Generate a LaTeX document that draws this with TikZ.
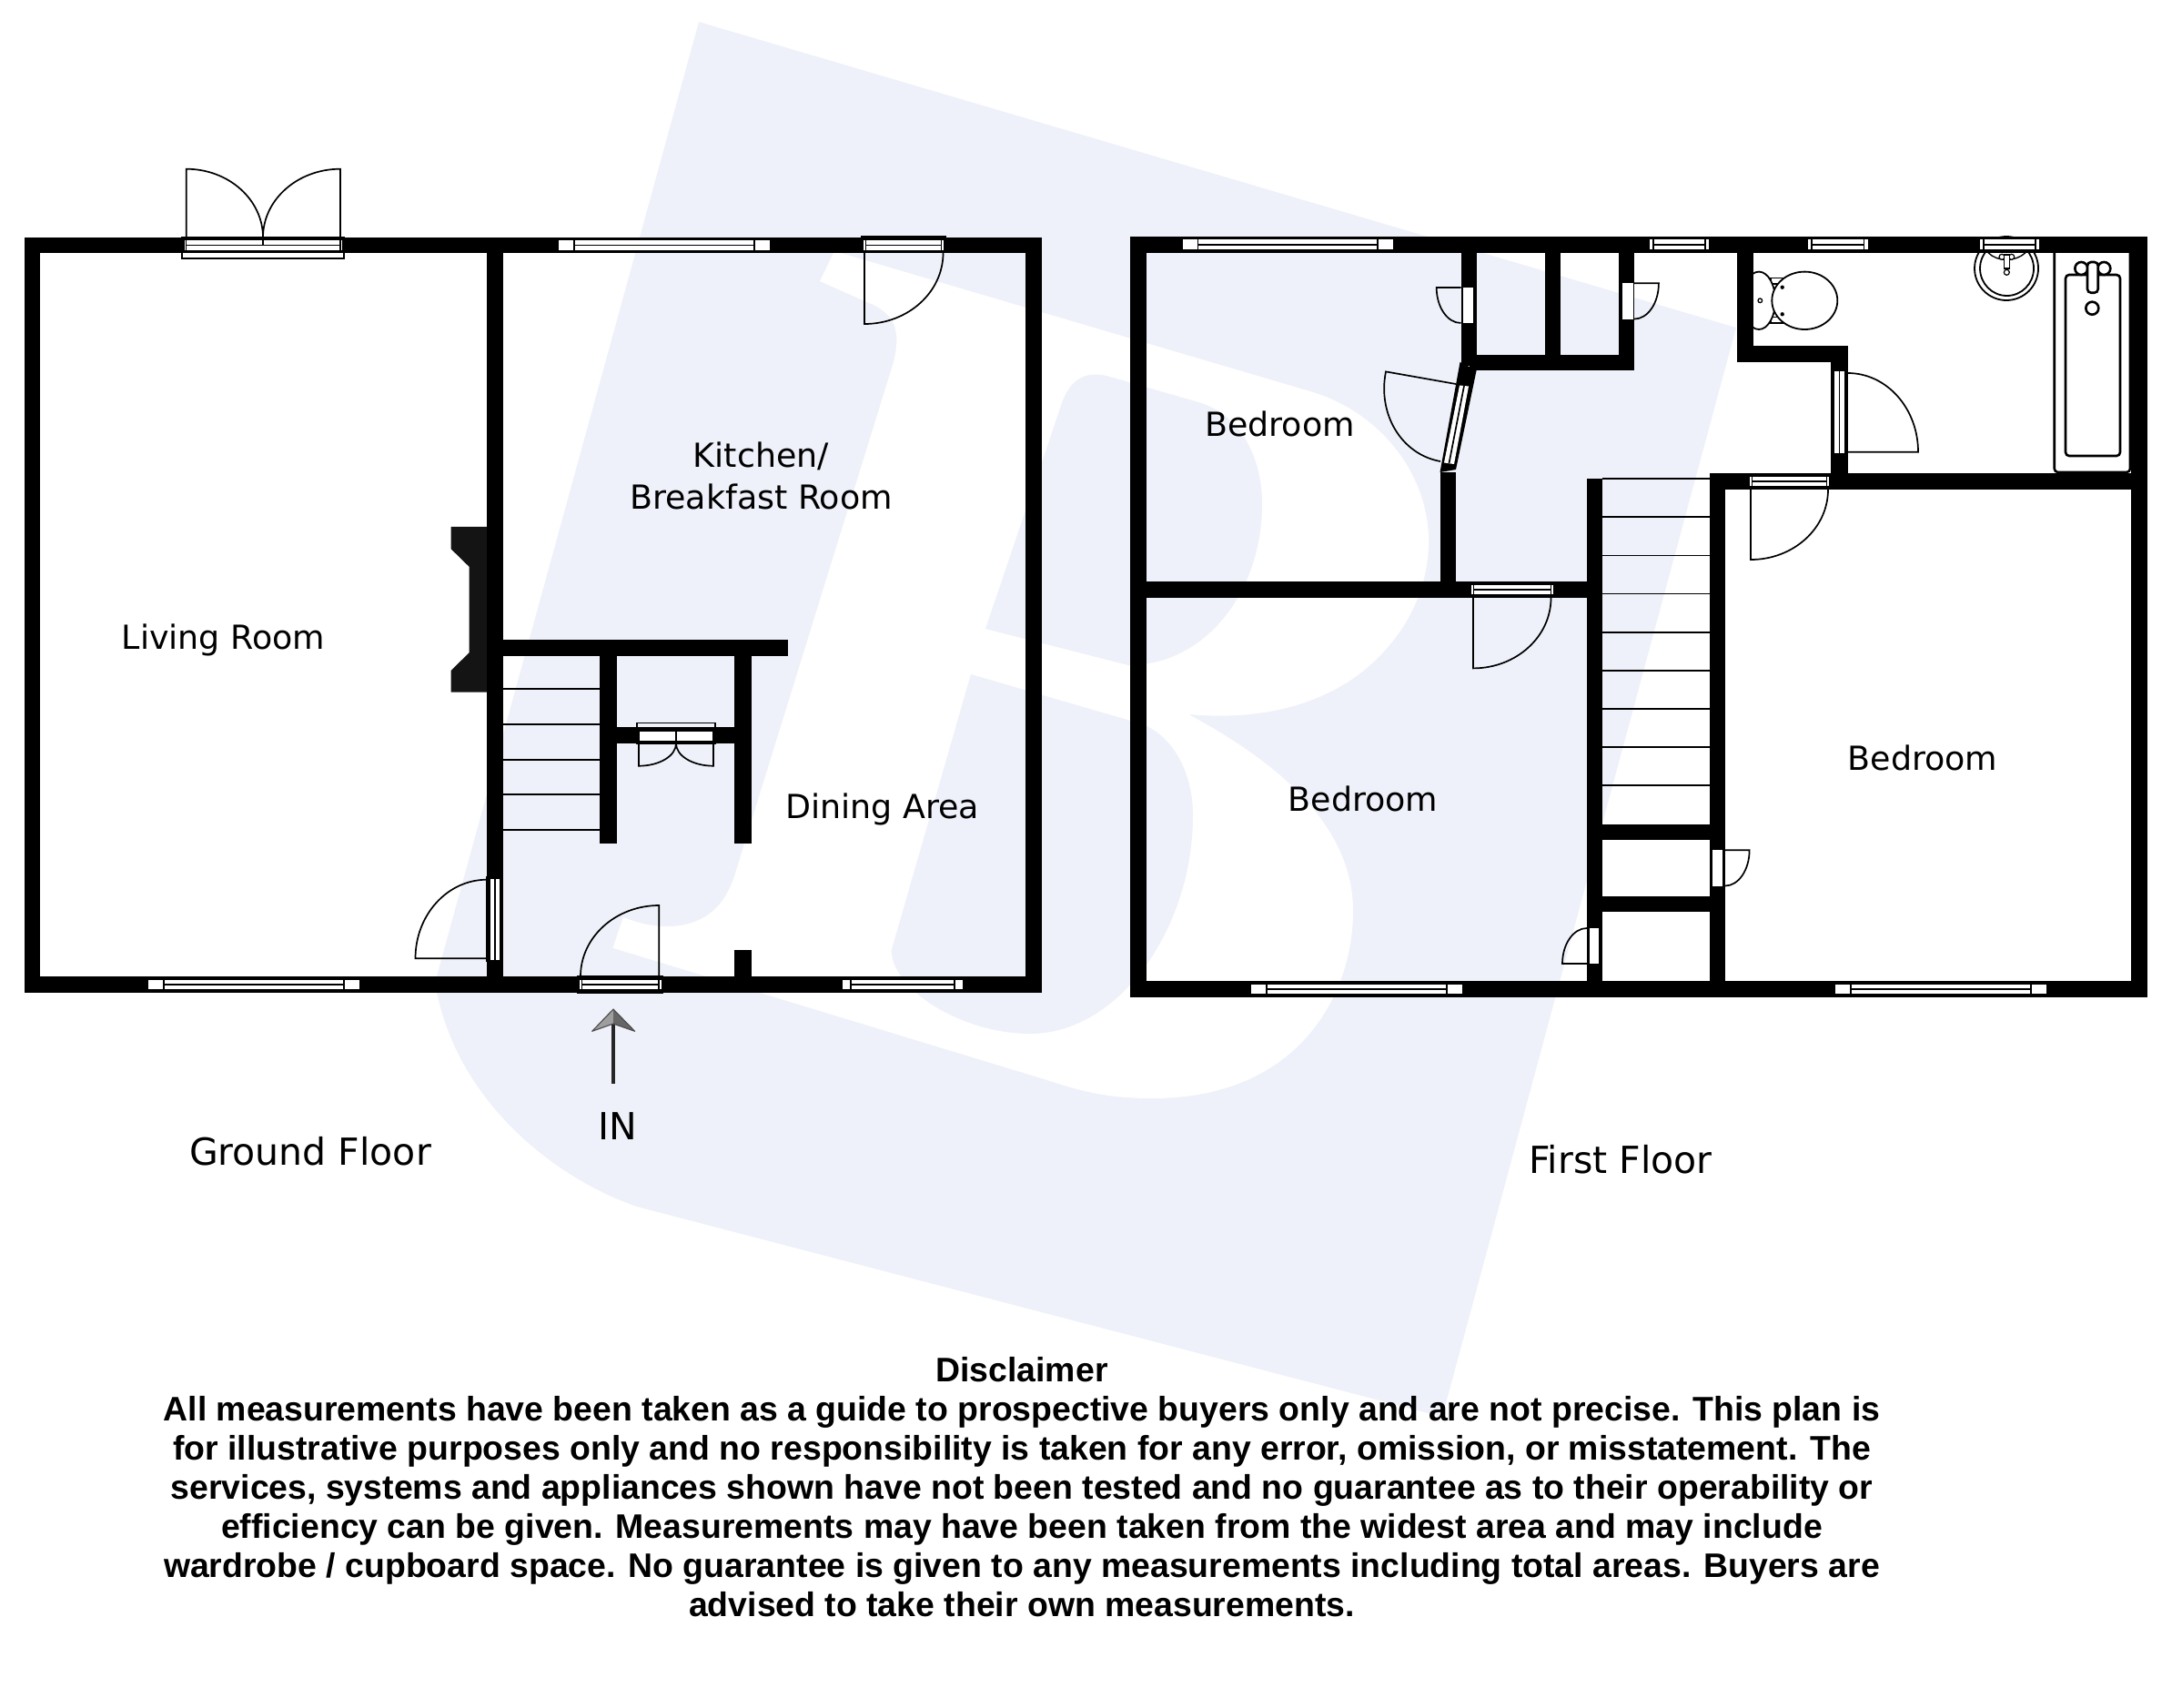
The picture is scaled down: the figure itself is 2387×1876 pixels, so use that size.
\documentclass[tikz,border=0pt]{standalone}
\usepackage{fontspec}
\setmainfont{DejaVu Sans}
\newfontfamily\notefont{Liberation Sans}
\definecolor{wmblue}{HTML}{EEF1F9}
\tikzset{
    wall/.style={fill=black},
    pane/.style={fill=white},
    doorline/.style={draw=black, line width=1.7pt},
    tread/.style={draw=black, line width=1.8pt},
    fixture/.style={draw=black, line width=1.8pt, fill=white},
    roomlabel/.style={inner sep=0pt, align=center, font=\fontsize{36.4}{46}\selectfont},
    floorlabel/.style={inner sep=0pt, font=\fontsize{41}{50}\selectfont},
    notelabel/.style={inner sep=0pt, align=center, font=\notefont\bfseries\fontsize{37.4}{43}\selectfont},
}
\begin{document}
\begin{tikzpicture}[x=1pt, y=-1pt]
    \useasboundingbox (0,0) rectangle (2387,1876);

    % watermark
    \fill[wmblue] (768,24) -- (1908,360) -- (1585,1557) -- (700,1326)
        .. controls (610,1295) and (500,1210) .. (478,1080) -- cycle;
    \fill[white] (917,276) -- (1443,431)
        .. controls (1520,455) and (1572,525) .. (1570,599)
        .. controls (1568,665) and (1530,715) .. (1488,745)
        .. controls (1430,785) and (1360,790) .. (1306,785)
        .. controls (1390,830) and (1487,900) .. (1487,1001)
        .. controls (1487,1090) and (1430,1207) .. (1266,1207)
        .. controls (1220,1207) and (1190,1200) .. (1151,1187)
        -- (673.4,1041.7) -- (685,1008)
        .. controls (705,1016) and (720,1018) .. (733,1018)
        .. controls (770,1018) and (795,1000) .. (807,963)
        -- (982,398) .. controls (990,365) and (985,345) .. (955,333)
        -- (901,309) -- cycle;
    \fill[wmblue] (1083,691) -- (1168,440) .. controls (1178,415) and (1195,407) .. (1220,414)
        -- (1317,442) .. controls (1365,456) and (1387,505) .. (1387,554)
        .. controls (1387,650) and (1325,731) .. (1240,731) -- cycle;
    \fill[wmblue] (1067,741) -- (1256,796) .. controls (1290,810) and (1311,850) .. (1311,896)
        .. controls (1311,1020) and (1230,1136) .. (1132,1136)
        .. controls (1060,1136) and (982,1090) .. (979.5,1045) -- cycle;

    % bathroom fittings
    \draw[fixture] (2205,295) circle (35);
    \draw[fixture] (2205.5,295) ellipse (29.5 and 30);
    \draw[fixture, line width=1.4pt] (2185,277.7) .. controls (2195,288) and (2215,288) .. (2226,277.7);
    \draw[fixture, line width=1.2pt] (2200,282.3) circle (3) (2210.7,282.3) circle (3);
    \draw[fixture, line width=1.2pt] (2202.7,280) rectangle (2208.3,295);
    \draw[fixture, line width=1.2pt] (2205.3,299.3) circle (3);
    \draw[fixture, line width=2.6pt, fill=none, rounded corners=4pt] (2257.7,277.6) -- (2257.7,519) -- (2341,519) -- (2341,277.6);
    \draw[fixture, line width=2.6pt, rounded corners=4pt] (2270,302) rectangle (2330,501);
    \draw[fixture, line width=2.6pt] (2287.3,295) circle (7) (2312.3,295) circle (7);
    \draw[fixture, line width=2.6pt, rounded corners=4pt] (2294,288) rectangle (2305.7,321.7);
    \draw[fixture, line width=2.6pt] (2299.3,338.7) circle (7);
    \draw[fixture, line width=1.4pt] (1946,305.5) rectangle (1962,312) (1946,348.5) rectangle (1962,355);
    \draw[fixture] (1933,330.3) ellipse (18 and 31.7);
    \draw[fixture] (1983.3,330.3) ellipse (36 and 31.7);
    \fill (1958.7,315.7) circle (2.2) (1958.7,345.3) circle (2.2);
    \draw[line width=1.3pt] (1934.3,330.3) circle (2.3);

    % treads
    \foreach \y in {757.3,796.3,835.3,873.3,912}
        \draw[tread] (553,\y) -- (659,\y);
    \foreach \y in {526.2,568.3,610.4,652.5,694.6,736.7,778.8,820.9,863}
        \draw[tread] (1761,\y) -- (1878.7,\y);

    % walls, ground floor then first floor
    \foreach \xa/\ya/\xb/\yb in {26.6/261/1145/278, 26.6/1073/1145/1090.7, 26.6/261/44.4/1090.7,
        1127/261/1145/1090.7, 535/261/553/1090.7, 553/702.5/866/720.5, 659/720/677.5/927,
        807/720/825.7/927, 677/799/807/817, 807/1044/825.7/1073,
        1242.3/259.6/2360/277.6, 1242.3/1078/2360/1096, 1242.3/259.6/1260/1096, 2342/259.6/2360/1096,
        1260/639/1747/657, 1744/526/1761/1096, 1878.7/520.6/1895.8/1096, 1878.7/520/2360/537.7,
        2012/380/2030.7/520, 1909/380/2030.7/397.7, 1909/260/1927.3/397.7, 1605.5/260/1622.6/402,
        1697.8/260/1715/406.7, 1779/260/1796/406.7, 1615/390/1796/406.7, 1582.5/519/1599.6/639,
        1761/906/1879/923, 1761/985.3/1879/1002}
        \fill[wall] (\xa,\ya) rectangle (\xb,\yb);
    \fill[wall] (1604.5,398) -- (1622.6,407) -- (1600,516) -- (1582.5,519) -- cycle;
    % chimney breast
    \fill[black!92] (535,578.8) -- (495.7,578.8) -- (495.7,603.3) -- (515.7,622.9) -- (515.7,717.2)
        -- (495.7,736.8) -- (495.7,760.6) -- (535,760.6) -- cycle;

    % windows and door thresholds along the horizontal walls
    \foreach \xa/\xb/\ym/\capw in {614/846/269.5/17, 162.8/395/1082/17, 926/1058/1082/9,
        1299.6/1531/268.7/17, 1813/1878/268.7/4, 1987/2052.7/268.7/4, 2176/2241/268.7/4,
        1374.8/1607/1087/17, 2017/2249/1087/17,
        202.7/376/269.5/2, 949/1037/269.5/2.5, 637/726.5/1082/2.5,
        1617/1707/648/2.5, 1923/2010/529/2.5} {
        \fill[pane] (\xa,\ym-5.3) rectangle (\xb,\ym+5.3);
        \draw[tread, line width=1.7pt] (\xa+\capw,\ym) -- (\xb-\capw,\ym);
        \draw[tread, line width=1.5pt] (\xa+\capw,\ym-5.3) -- (\xa+\capw,\ym+5.3)
            (\xb-\capw,\ym-5.3) -- (\xb-\capw,\ym+5.3);
    }
    % door thresholds along the vertical walls
    \foreach \xm/\ya/\yb in {543.7/966/1056, 2021.5/408/498} {
        \fill[pane] (\xm-5.2,\ya) rectangle (\xm+5.2,\yb);
        \draw[tread, line width=1.7pt] (\xm,\ya) -- (\xm,\yb);
    }
    \fill[pane] (1604,423.5) -- (1614,424.5) -- (1598,510) -- (1587,508.5) -- cycle;
    \draw[tread, line width=1.7pt] (1609,424) -- (1592.5,509);
    % cupboard thresholds
    \foreach \xa/\ya/\xb/\yb in {702.7/804/783.3/814, 1608/316/1619/355, 1783.4/311/1794.6/350.6,
        1882.4/934/1892.8/973.5, 1747/1020/1757.4/1059.4}
        \fill[pane] (\xa,\ya) rectangle (\xb,\yb);
    % door frames
    \foreach \xa/\ya/\xb/\yb in {200/261/378/284, 700/794.5/786/817, 947/260/1039/276,
        635/1073/728/1091, 535/964/549.5/1056}
        \draw[doorline, line width=1.4pt] (\xa,\ya) rectangle (\xb,\yb);

    % door leaves: hinge, tip, closed end
    \foreach \hx/\hy/\lx/\ly/\cx/\cy in {204.7/261/204.7/185.7/289/261, 374/261/374/185.7/289/261,
        950/278/950/356/1036.5/278, 535/1053.3/456.5/1053.3/535/966.7,
        724.3/1073/724.3/995/638/1073, 702/817/702/841.7/743/817, 784/817/784/841.7/743/817,
        1605.5/316/1578.7/316/1605.5/355, 1796/311.3/1822.9/311.3/1796/350.6,
        1600/422/1523/408.4/1583/507, 1619/657/1619/734.4/1704.5/657,
        1924/538/1924/615/2009/538, 2030.7/496.7/2108/496.7/2030.7/410,
        1895.8/934.3/1922.6/934.3/1895.8/973.5, 1744/1059/1717/1059/1744/1020}
        \draw[doorline] (\cx,\cy) .. controls ({\cx+.5523*(\lx-\hx)},{\cy+.5523*(\ly-\hy)})
            and ({\lx+.5523*(\cx-\hx)},{\ly+.5523*(\cy-\hy)}) .. (\lx,\ly) -- (\hx,\hy);
    \draw[doorline] (289,261) -- (289,270);
    \draw[doorline] (743,804) -- (743,817);

    % room names
    \node[roomlabel] (living) at (245.5,703) {Living Room};
    \node[roomlabel] (kitchen) at (836.5,523) {Kitchen/\\Breakfast Room};
    \node[roomlabel] (dining) at (969.5,889) {Dining Area};
    \node[roomlabel] (bedrooma) at (1406.5,466) {Bedroom};
    \node[roomlabel] (bedroomb) at (1498,878) {Bedroom};
    \node[roomlabel] (bedroomc) at (2113,832.5) {Bedroom};
    \node[floorlabel] (ground) at (341,1265) {Ground Floor};
    \node[floorlabel] (first) at (1781,1274) {First Floor};
    \node[floorlabel] (entry) at (679,1237.5) {IN};

    % way in
    \coordinate (tail) at (674,1191);
    \coordinate (tip) at (674,1125);
    \draw[line width=4.6pt, color=black!85] (tail) -- (tip);
    \fill[black!38] (674,1109) -- (650.7,1133.3) -- (674,1125) -- cycle;
    \fill[black!60] (674,1109) -- (697.7,1133.3) -- (674,1125) -- cycle;
    \draw[line width=1.1pt, color=black!70, line join=round] (674,1109) -- (650.7,1133.3) -- (674,1125) -- (697.7,1133.3) -- cycle;

    \node[notelabel] (disclaimer) at (1123,1634) {Disclaimer\\
        All measurements have been taken as a guide to prospective buyers only and are not precise. This plan is\\
        for illustrative purposes only and no responsibility is taken for any error, omission, or misstatement. The\\
        services, systems and appliances shown have not been tested and no guarantee as to their operability or\\
        efficiency can be given. Measurements may have been taken from the widest area and may include\\
        wardrobe / cupboard space. No guarantee is given to any measurements including total areas. Buyers are\\
        advised to take their own measurements.};
\end{tikzpicture}
\end{document}
